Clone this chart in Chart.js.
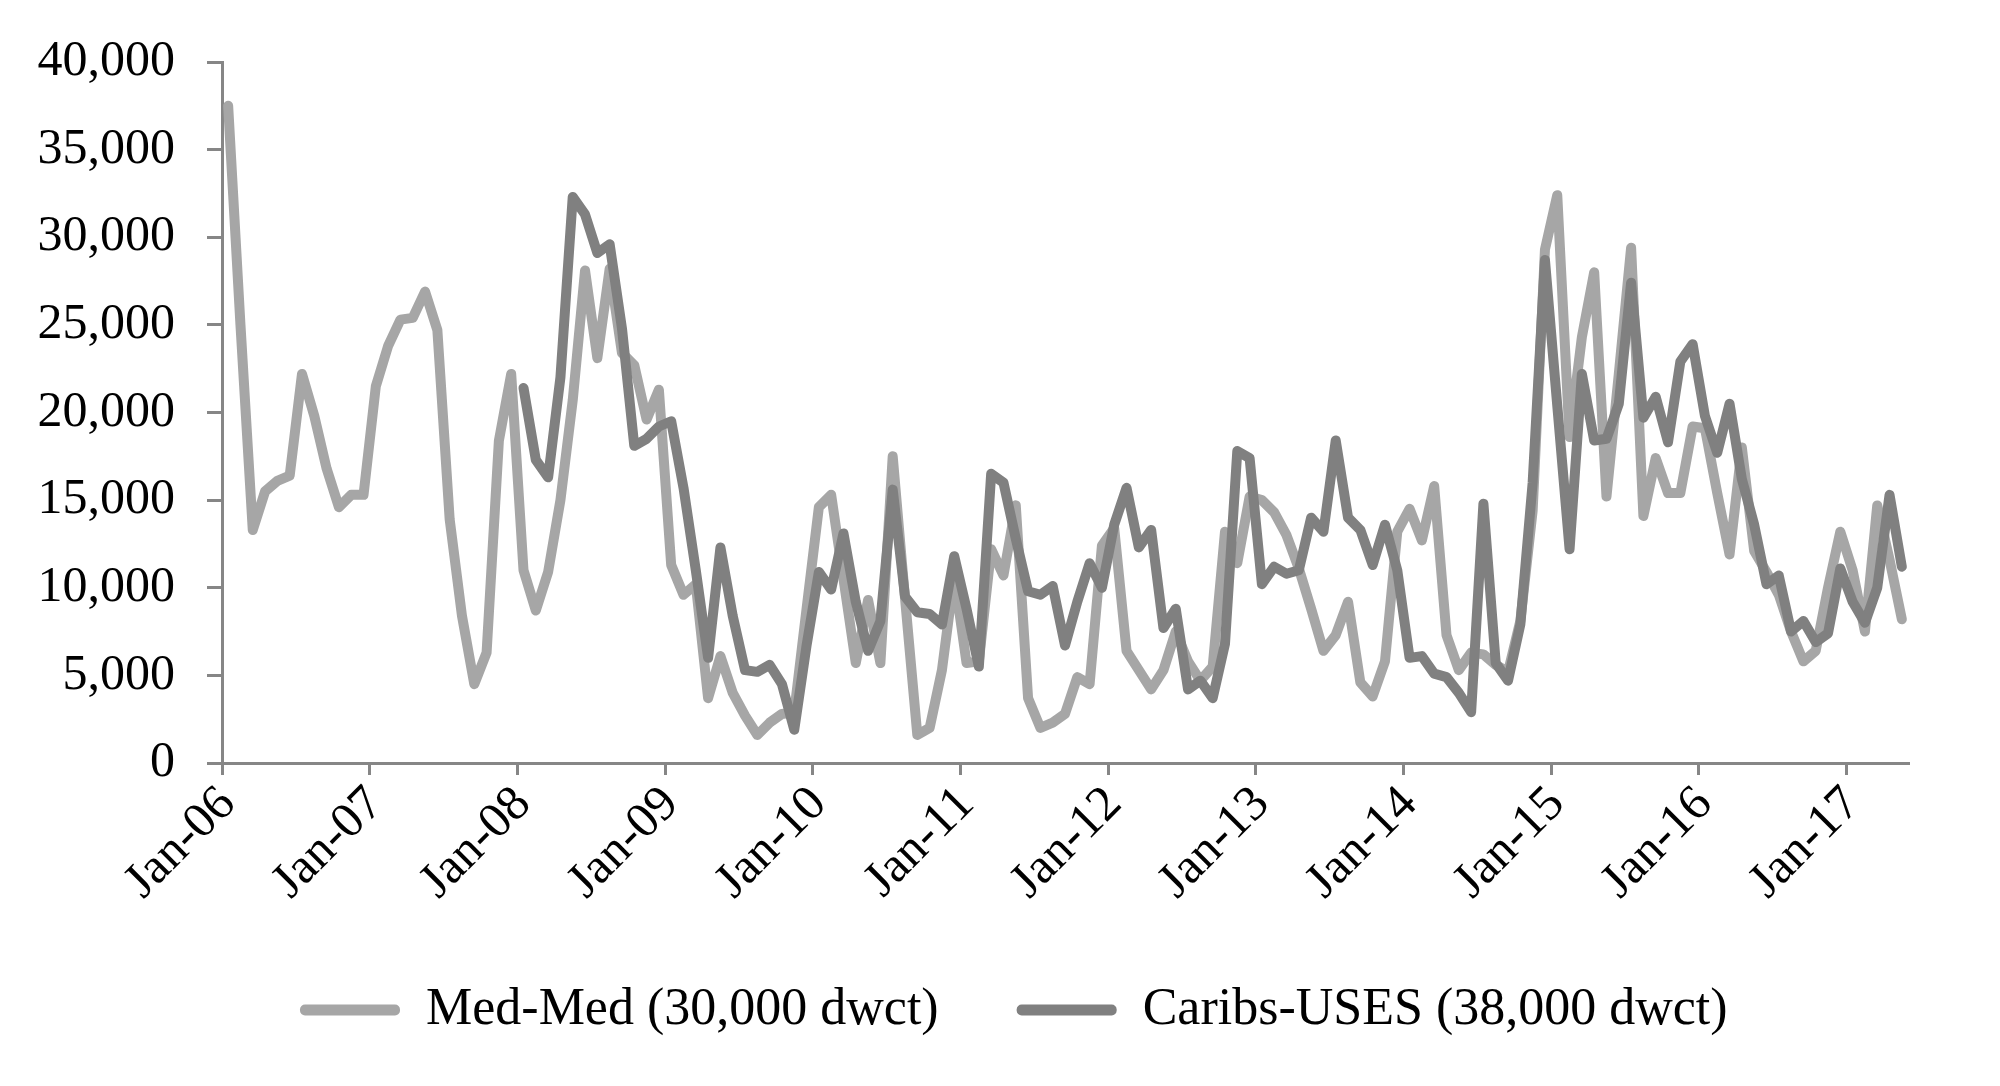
<!DOCTYPE html>
<html>
<head>
<meta charset="utf-8">
<script src="https://cdn.jsdelivr.net/npm/chart.js@4.4.1/dist/chart.umd.min.js"></script>
<style>
  html, body { margin: 0; padding: 0; background: #ffffff; }
  #wrap { width: 2000px; height: 1086px; position: relative; }
</style>
</head>
<body>
<div id="wrap"><canvas id="c" width="2000" height="1086"></canvas></div>
<script>
// ---- data (monthly, Jan-06 .. May-17) ----
const monthNames = ['Jan','Feb','Mar','Apr','May','Jun','Jul','Aug','Sep','Oct','Nov','Dec'];
const startYear = 2006;
const monthCount = 137;
const categories = [];
for (let i = 0; i < monthCount; i++) {
  const y = startYear + Math.floor(i / 12);
  categories.push(monthNames[i % 12] + '-' + String(y % 100).padStart(2, '0'));
}

const medMed = [
  37500, 25000, 13300, 15500, 16100, 16400, 22200, 19800, 16800, 14600, 15300, 15300,
  21500, 23800, 25300, 25400, 26900, 24700, 13900, 8400, 4500, 6300, 18400, 22200,
  11000, 8700, 10900, 15000, 20700, 28100, 23100, 28200, 23400, 22700, 19600, 21300,
  11300, 9600, 10200, 3700, 6100, 4000, 2700, 1600, 2300, 2800, 2900, 8800,
  14600, 15300, 10500, 5700, 9300, 5700, 17500, 9400, 1600, 2000, 5300, 10700,
  5700, 5800, 12200, 10700, 14700, 3700, 2000, 2300, 2800, 4900, 4500, 12400,
  13400, 6400, 5300, 4200, 5300, 7500, 5800, 4700, 5500, 13200, 11400, 15200,
  15000, 14300, 13000, 11100, 8800, 6400, 7300, 9200, 4600, 3800, 5800, 13200,
  14500, 12700, 15800, 7300, 5300, 6300, 6200, 5600, 5200, 8100, 14400, 29300,
  32400, 18600, 24300, 28000, 15200, 22200, 29400, 14100, 17400, 15400, 15400, 19200,
  19100, 15400, 11900, 18000, 12100, 10900, 9600, 7500, 5800, 6400, 10000, 13200,
  11000, 7500, 14700, 11600, 8200
];

const caribsUses = [
  null, null, null, null, null, null, null, null, null, null, null, null,
  null, null, null, null, null, null, null, null, null, null, null, null,
  21400, 17300, 16300, 22000, 32300, 31300, 29100, 29600, 24800, 18100, 18500, 19200,
  19500, 15700, 11000, 6000, 12300, 8400, 5300, 5200, 5600, 4500, 1900, 6700,
  10900, 9900, 13100, 9200, 6400, 8100, 15600, 9500, 8600, 8500, 7900, 11800,
  8800, 5500, 16500, 16000, 12800, 9800, 9600, 10100, 6700, 9200, 11400, 10000,
  13600, 15700, 12300, 13300, 7700, 8800, 4200, 4700, 3700, 6800, 17800, 17400,
  10200, 11200, 10800, 11000, 14000, 13200, 18400, 14000, 13300, 11300, 13600, 11000,
  6000, 6100, 5100, 4900, 4000, 2900, 14800, 5700, 4700, 7900, 16000, 28700,
  20400, 12200, 22200, 18400, 18500, 20500, 27400, 19700, 20900, 18300, 22900, 23900,
  19800, 17700, 20500, 16200, 13600, 10200, 10700, 7500, 8100, 6900, 7400, 11100,
  9200, 8000, 10000, 15300, 11200
];

const seriesNames = ['Med-Med (30,000 dwct)', 'Caribs-USES (38,000 dwct)'];
const yTicks = [0, 5000, 10000, 15000, 20000, 25000, 30000, 35000, 40000];

// ---- style ----
const medColor = '#a6a6a6';
const caribsColor = '#808080';
const axisColor = '#868686';
const fontFamily = "'Liberation Serif', 'Times New Roman', serif";
const axisFontSize = 50;
const legendFontSize = 52;

const ctx = document.getElementById('c').getContext('2d');

new Chart(ctx, {
  type: 'line',
  data: {
    labels: categories,
    datasets: [
      {
        label: seriesNames[0],
        data: medMed,
        borderColor: medColor,
        backgroundColor: medColor,
        borderWidth: 10,
        pointRadius: 0,
        tension: 0,
        borderJoinStyle: 'round',
        borderCapStyle: 'round',
        order: 2
      },
      {
        label: seriesNames[1],
        data: caribsUses,
        borderColor: caribsColor,
        backgroundColor: caribsColor,
        borderWidth: 10,
        pointRadius: 0,
        tension: 0,
        borderJoinStyle: 'round',
        borderCapStyle: 'round',
        spanGaps: false,
        order: 1
      }
    ]
  },
  options: {
    responsive: false,
    animation: false,
    devicePixelRatio: 1,
    layout: { padding: { left: 20, right: 92, top: 59, bottom: 40 } },
    scales: {
      x: {
        type: 'category',
        offset: true,
        afterFit: (scale) => { scale.height = 143; },
        border: { display: true, color: axisColor, width: 3 },
        grid: {
          offset: true,
          drawOnChartArea: false,
          drawTicks: true,
          tickLength: 12,
          lineWidth: 3,
          color: (c) => (c.index !== undefined && c.index % 12 === 0) ? axisColor : 'rgba(0,0,0,0)'
        },
        ticks: {
          autoSkip: false,
          maxRotation: 45,
          minRotation: 45,
          padding: 0,
          color: '#000000',
          font: { family: fontFamily, size: axisFontSize },
          callback: function (value, index) {
            return index % 12 === 0 ? this.getLabelForValue(value) : '';
          }
        }
      },
      y: {
        min: 0,
        max: 40000,
        afterFit: (scale) => { scale.width = 202; },
        afterBuildTicks: (scale) => { scale.ticks = yTicks.map(v => ({ value: v })); },
        border: { display: true, color: axisColor, width: 3 },
        grid: {
          drawOnChartArea: false,
          drawTicks: true,
          tickLength: 15,
          lineWidth: 3,
          color: axisColor
        },
        ticks: {
          padding: 32,
          color: '#000000',
          font: { family: fontFamily, size: axisFontSize },
          callback: (v) => Number(v).toLocaleString('en-US')
        }
      }
    },
    plugins: {
      title: { display: false },
      tooltip: { enabled: false },
      legend: {
        display: true,
        position: 'bottom',
        align: 'start',
        fullSize: false,
        labels: {
          color: '#000000',
          font: { family: fontFamily, size: legendFontSize },
          boxWidth: 100,
          boxHeight: 11,
          padding: 78,
          useBorderRadius: true,
          borderRadius: 5,
          sort: (a, b) => a.datasetIndex - b.datasetIndex,
          generateLabels: (chart) => {
            const items = Chart.defaults.plugins.legend.labels.generateLabels(chart);
            return items.map(it => Object.assign(it, { lineWidth: 0, strokeStyle: 'rgba(0,0,0,0)' }));
          }
        }
      }
    }
  }
});
</script>
</body>
</html>
